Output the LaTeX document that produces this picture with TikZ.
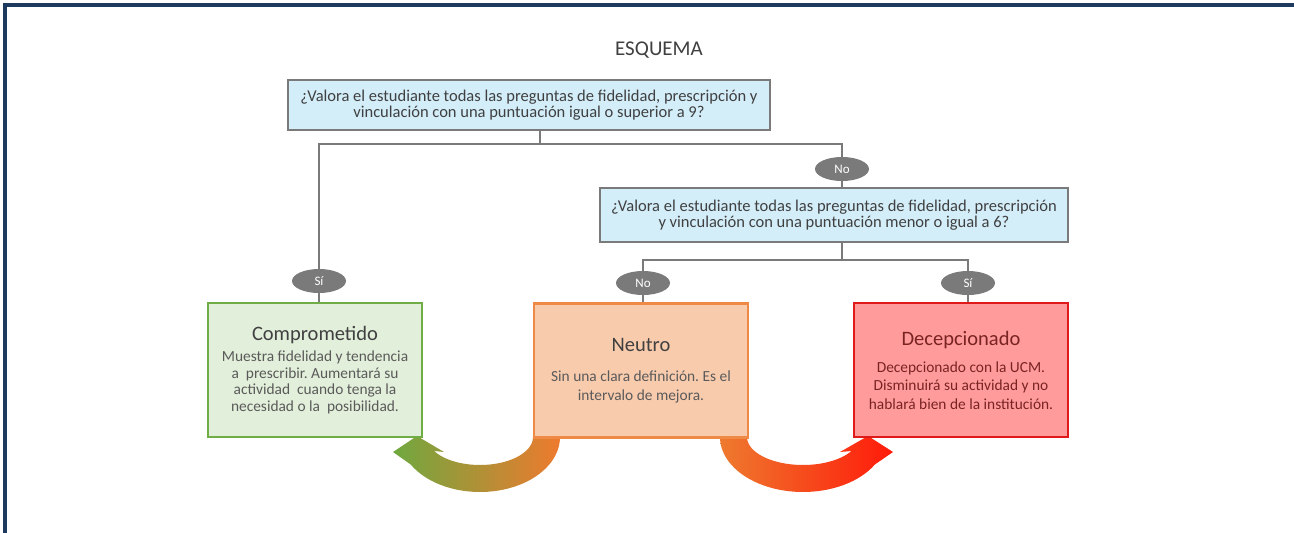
\documentclass[tikz,border=0pt]{standalone}
\usepackage{fontspec}
\setmainfont{Carlito}
\usetikzlibrary{shapes.geometric}
\definecolor{frame}{HTML}{1F3A5F}
\definecolor{qfill}{HTML}{D3EDF9}
\definecolor{qline}{HTML}{7A7A7A}
\definecolor{gfill}{HTML}{E2EFDA}
\definecolor{gline}{HTML}{70AD47}
\definecolor{nfill}{HTML}{F8CBAD}
\definecolor{nline}{HTML}{EE8A45}
\definecolor{dfill}{HTML}{FF9B9B}
\definecolor{dline}{HTML}{E01A1A}
\definecolor{dtext}{HTML}{7A2323}
\definecolor{ttext}{HTML}{404040}
\definecolor{btext}{HTML}{5A5A5A}
\definecolor{arrgreen}{HTML}{6FA83F}
\definecolor{arrorange}{HTML}{EE7A2E}
\definecolor{arrred}{HTML}{FF1A0A}
\newcommand\boxhead{\fontsize{20.5}{23}\selectfont}
\frenchspacing
\begin{document}
\begin{tikzpicture}[x=1pt,y=-1pt,
  qbox/.style={draw=qline, line width=2.8pt, fill=qfill, text=ttext, align=center,
     inner sep=0pt, font=\fontsize{16.5}{16.5}\selectfont},
  catbox/.style={line width=2.5pt, minimum width=214pt, minimum height=134pt, align=center,
     inner sep=0pt, font=\fontsize{15.4}{16.5}\selectfont},
  widebox/.style={catbox, font=\fontsize{15.4}{18.3}\selectfont},
  yesno/.style={ellipse, fill=qline, text=white, minimum width=54pt, minimum height=24pt,
     inner sep=0pt, font=\fontsize{13}{15}\selectfont},
  conn/.style={draw=qline, line width=2.5pt}
]
\useasboundingbox (0,0) rectangle (1294,533);
\fill[white] (0,0) rectangle (1294,533);
% frame
\fill[frame] (3,3) rectangle (1294,7);
\fill[frame] (3,3) rectangle (7,533);

% title
\node[text=ttext, font=\fontsize{21}{24}\selectfont] (title) at (659,50) {ESQUEMA};

% curved arrows (behind boxes)
\shade[left color=arrgreen, middle color=arrorange, right color=arrorange]
  (560,430) -- plot[domain=0:150,samples=40] ({480+80*cos(\x)},{437+55*sin(\x)})
  -- (393,452) -- (417,436) -- (444,452)
  -- plot[domain=150:0,samples=40] ({480+53*cos(\x)},{437+28*sin(\x)})
  -- (533,430) -- cycle;
\shade[left color=arrorange, middle color=arrorange, right color=arrred]
  (720,430) -- plot[domain=180:30,samples=40] ({803+83*cos(\x)},{437+55*sin(\x)})
  -- (893,452) -- (868,436) -- (840,452)
  -- plot[domain=30:180,samples=40] ({803+56*cos(\x)},{437+28*sin(\x)})
  -- (747,430) -- cycle;

% question boxes
\node[qbox, minimum width=482pt, minimum height=50pt] (q1) at (529,105)
  {¿Valora el estudiante todas las preguntas de fidelidad, prescripción y\\
   vinculación con una puntuación igual o superior a 9?};
\node[qbox, minimum width=468pt, minimum height=54pt] (q2) at (834,215)
  {¿Valora el estudiante todas las preguntas de fidelidad, prescripción\\
   y vinculación con una puntuación menor o igual a 6?};

% category boxes
\node[catbox, draw=gline, fill=gfill, text=btext] (g) at (315,370)
  {{\boxhead\color{ttext}Comprometido}\\[5pt]
   Muestra fidelidad y tendencia\\
   a~ prescribir. Aumentará su\\
   actividad~ cuando tenga la\\
   necesidad o la~ posibilidad.};
\node[widebox, draw=nline, fill=nfill, text=btext] (n) at (641,370.5)
  {{\boxhead\color{ttext}Neutro}\\[12pt]
   Sin una clara definición. Es el\\
   intervalo de mejora.};
\node[widebox, draw=dline, fill=dfill, text=dtext] (d) at (961,370)
  {{\boxhead Decepcionado}\\[9pt]
   Decepcionado con la UCM.\\
   Disminuirá su actividad y no\\
   hablará bien de la institución.};

% yes/no labels
\node[yesno] (e1) at (842,169) {No};
\node[yesno] (e2) at (319,281) {Sí};
\node[yesno] (e3) at (643,283) {No};
\node[yesno] (e4) at (968,283) {Sí};

% junctions
\coordinate (j1) at (540,144);
\coordinate (j2) at (842,260);

% connectors
\draw[conn] (q1.south -| j1) -- (j1);
\draw[conn] (e2.north) -- (e2 |- j1) -- (e1 |- j1) -- (e1.north);
\draw[conn] (e1.south) -- (e1 |- q2.north);
\draw[conn] (e2.south) -- (e2 |- g.north);
\draw[conn] (j2 |- q2.south) -- (j2);
\draw[conn] (e3.north) -- (e3 |- j2) -- (e4 |- j2) -- (e4.north);
\draw[conn] (e3.south) -- (e3 |- n.north);
\draw[conn] (e4.south) -- (e4 |- d.north);
\end{tikzpicture}
\end{document}
